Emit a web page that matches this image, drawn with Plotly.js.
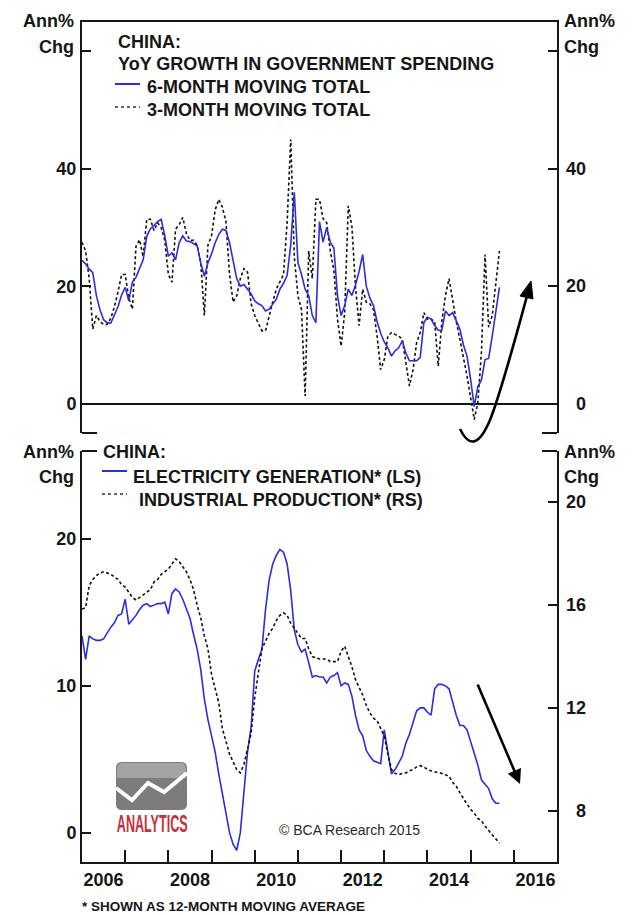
<!DOCTYPE html>
<html><head><meta charset="utf-8">
<script src="https://cdn.plot.ly/plotly-3.0.1.min.js"></script>
<style>html,body{margin:0;padding:0;background:#fff;}#chart{width:633px;height:915px;}</style>
</head><body><div id="chart"></div>
<script>
// ---------------- DATA (monthly, starting Jan 2006) ----------------
const startYear = 2006;

// Top panel: China YoY growth in government spending (%)
const govSpend6m = [
  24.4, 23.8, 22.9, 22.3, 18.4, 16.0, 14.3, 13.8, 13.7, 15.0, 16.5, 18.5,
  19.8, 17.5, 20.7, 21.5, 23.0, 24.5, 28.5, 29.8, 30.3, 31.0, 31.4, 28.6,
  25.1, 25.7, 24.5, 27.4, 28.6, 27.7, 27.6, 27.2, 26.9, 24.0, 21.7, 24.0,
  25.5, 27.4, 28.8, 29.7, 29.5, 27.4, 24.0, 21.3, 20.0, 20.3, 19.5, 18.7,
  17.5, 17.0, 16.7, 15.8, 16.1, 16.9, 17.8, 19.5, 20.5, 21.8, 27.0, 36.0,
  24.0, 22.0, 19.5, 18.4, 15.0, 13.8, 31.0, 27.5, 30.0, 27.5, 26.5, 18.4,
  15.0, 16.7, 19.5, 18.4, 20.2, 22.5, 25.4, 20.0, 18.0, 16.7, 14.0, 12.0,
  10.5, 9.5, 8.1, 9.0, 9.5, 10.7, 8.6, 7.3, 7.3, 7.3, 7.9, 13.8,
  14.7, 14.4, 13.3, 12.5, 12.5, 15.8, 15.0, 15.5, 14.1, 12.7, 10.0, 8.1,
  4.1, -0.5, 2.9, 4.0, 7.5, 7.7, 11.5, 16.0, 19.8
];
const govSpend3m = [
  27.5, 26.0, 21.3, 12.7, 15.0, 14.0, 13.5, 13.5, 14.5, 16.5, 19.0, 22.0,
  22.0, 18.0, 16.1, 26.8, 27.9, 25.0, 31.4, 31.4, 29.5, 30.8, 30.0, 27.8,
  22.0, 20.7, 29.7, 30.5, 31.7, 29.0, 27.8, 27.8, 27.0, 24.0, 15.0, 27.0,
  28.6, 33.0, 34.8, 33.5, 31.0, 22.0, 17.3, 18.4, 21.3, 23.0, 22.4, 17.0,
  15.0, 13.8, 12.4, 12.4, 15.0, 17.3, 19.5, 20.7, 22.0, 30.8, 45.0, 25.0,
  18.4, 16.0, 1.3, 26.0, 21.3, 34.8, 34.8, 31.5, 30.8, 26.0, 22.7, 14.4,
  9.8, 15.5, 33.7, 30.2, 20.0, 13.3, 19.5, 17.3, 17.0, 16.0, 11.5, 5.8,
  7.5, 11.5, 12.1, 11.8, 11.5, 11.0, 7.0, 3.0, 5.8, 10.4, 12.1, 15.5,
  14.4, 14.4, 14.0, 6.4, 14.0, 18.4, 21.3, 17.3, 14.0, 11.0, 8.0, 4.7,
  1.0, -2.7, 0.1, 8.7, 25.4, 13.0, 15.0, 20.0, 26.0
];

// Bottom panel: electricity generation (LS) and industrial production (RS), 12m MA
const elecGen = [
  13.4, 11.8, 13.4, 13.2, 13.1, 13.1, 13.2, 13.6, 14.0, 14.3, 14.8, 14.9,
  15.9, 14.2, 14.5, 14.8, 15.2, 15.5, 15.6, 15.4, 15.5, 15.6, 15.6, 15.7,
  14.9, 16.3, 16.6, 16.4, 15.9, 15.3, 14.6, 13.5, 12.5, 11.1, 9.1, 7.7,
  6.5, 5.5, 4.0, 2.7, 1.2, 0.0, -0.8, -1.2, 0.0, 2.5, 5.5, 7.2,
  11.0, 11.8, 12.5, 15.2, 17.2, 18.3, 18.9, 19.3, 19.1, 18.3, 16.5, 13.8,
  12.8, 12.3, 12.5, 11.6, 10.6, 10.7, 10.6, 10.6, 10.2, 10.6, 10.7, 10.9,
  10.0, 10.2, 10.1, 9.3, 8.0, 7.0, 6.6, 5.6, 5.2, 4.9, 4.8, 4.7,
  7.0, 5.5, 4.0, 4.3, 4.8, 5.2, 6.1, 6.7, 7.5, 8.3, 8.5, 8.5,
  8.2, 8.0, 9.8, 10.1, 10.1, 10.0, 9.8, 8.8, 8.0, 7.3, 7.3, 7.0,
  6.2, 5.3, 4.6, 3.6, 3.3, 3.0, 2.3, 2.0, 2.0
];
const indProd = [
  15.85, 15.9, 16.76, 17.0, 17.15, 17.25, 17.3, 17.25, 17.2, 17.1, 17.0, 16.8,
  16.7, 16.5, 16.3, 16.2, 16.3, 16.4, 16.5, 16.6, 16.9, 17.0, 17.2, 17.3,
  17.4, 17.6, 17.8, 17.7, 17.5, 17.3, 17.0, 16.6, 16.0, 15.5, 14.8, 14.3,
  13.3, 12.8, 12.2, 11.2, 10.7, 10.2, 9.9, 9.6, 9.47, 9.8, 10.4, 11.0,
  12.4, 13.4, 14.3, 14.6, 14.9, 15.1, 15.4, 15.6, 15.7, 15.6, 15.3, 15.1,
  14.9, 14.7, 14.7, 14.3, 14.0, 13.95, 13.9, 13.9, 13.9, 13.8, 13.8, 13.8,
  14.2, 14.4, 14.0, 13.6, 13.1, 12.8, 12.5, 12.1, 11.8, 11.6, 11.5, 11.2,
  10.9, 10.2, 9.6, 9.45, 9.4, 9.45, 9.47, 9.55, 9.6, 9.7, 9.75, 9.7,
  9.6, 9.55, 9.5, 9.47, 9.45, 9.4, 9.34, 9.1, 8.95, 8.7, 8.45, 8.25,
  8.05, 7.9, 7.7, 7.6, 7.4, 7.25, 7.06, 6.9, 6.74
];

// Axis ticks / labels
const yearTicks = [2007, 2008, 2009, 2010, 2011, 2012, 2013, 2014, 2015, 2016];
const yearLabelPos = [2006.5, 2008.5, 2010.5, 2012.5, 2014.5, 2016.5];
const yearLabels = ['2006', '2008', '2010', '2012', '2014', '2016'];
const topTicks = [0, 20, 40, 60];
const topTickText = ['0', '20', '40', ''];
const botLeftTicks = [0, 10, 20];
const botLeftText = ['0', '10', '20'];
const botRightTicks = [8, 12, 16, 20];
const botRightText = ['8', '12', '16', '20'];

// ---------------- helpers ----------------
function monthAxis(n) { const a = []; for (let i = 0; i < n; i++) a.push(startYear + i / 12); return a; }
const W = 633, H = 915, ML = 82, MR = 76, MT = 22, MB = 53;
const PW = W - ML - MR, PH = H - MT - MB;
const px = v => (v - ML) / PW;
const py = v => (H - MB - v) / PH;
const FONT = 'Liberation Sans, Arial, Helvetica, sans-serif';
const INK = '#161616';
const BLUE = '#2d2fd6';
const bold = (size, color) => ({ family: FONT, size: size, color: color || INK, weight: 700 });
const TICK = 18, TITLE = 18;

const topDomain = [py(433), 1];
const botDomain = [0, py(451)];

const traces = [
  { x: monthAxis(govSpend3m.length), y: govSpend3m, xaxis: 'x', yaxis: 'y', mode: 'lines',
    line: { color: '#111', width: 1.6, dash: '3px,2.5px' }, hoverinfo: 'skip' },
  { x: monthAxis(govSpend6m.length), y: govSpend6m, xaxis: 'x', yaxis: 'y', mode: 'lines',
    line: { color: BLUE, width: 1.6 }, hoverinfo: 'skip' },
  { x: [], y: [], xaxis: 'x', yaxis: 'y3', mode: 'lines', hoverinfo: 'skip' },
  { x: monthAxis(indProd.length), y: indProd, xaxis: 'x2', yaxis: 'y4', mode: 'lines',
    line: { color: '#111', width: 1.6, dash: '3px,2.5px' }, hoverinfo: 'skip' },
  { x: monthAxis(elecGen.length), y: elecGen, xaxis: 'x2', yaxis: 'y2', mode: 'lines',
    line: { color: BLUE, width: 1.6 }, hoverinfo: 'skip' }
];

const axisCommon = { showgrid: false, linecolor: INK, linewidth: 2, tickcolor: INK, tickwidth: 2, fixedrange: true };

const annotations = [];
function addText(text, x, y, anchor, font, extra) {
  annotations.push(Object.assign({ xref: 'paper', yref: 'paper', x: px(x), y: py(y), xanchor: anchor, yanchor: 'middle',
    text: text, showarrow: false, font: font }, extra || {}));
}
// Axis unit labels
addText('Ann%', 76, 21, 'right', bold(TICK));
addText('Chg', 76, 47, 'right', bold(TICK));
addText('Ann%', 562, 21, 'left', bold(TICK));
addText('Chg', 562, 47, 'left', bold(TICK));
addText('Ann%', 76, 452, 'right', bold(TICK));
addText('Chg', 76, 477, 'right', bold(TICK));
addText('Ann%', 562, 452, 'left', bold(TICK));
addText('Chg', 562, 477, 'left', bold(TICK));
// Right-axis tick labels (right aligned like the reference)
topTicks.forEach((v, k) => { if (topTickText[k]) annotations.push({ xref: 'paper', yref: 'y3', x: px(588), y: v, xanchor: 'right', yanchor: 'middle', text: topTickText[k], showarrow: false, font: bold(TICK) }); });
botRightTicks.forEach((v, k) => annotations.push({ xref: 'paper', yref: 'y4', x: px(588), y: v, xanchor: 'right', yanchor: 'middle', text: botRightText[k], showarrow: false, font: bold(TICK) }));
// Top panel titles / legend
addText('CHINA:', 116, 42, 'left', bold(TITLE));
addText('YoY GROWTH IN GOVERNMENT SPENDING', 116, 64, 'left', bold(TITLE));
addText('6-MONTH MOVING TOTAL', 145, 87, 'left', bold(TITLE));
addText('3-MONTH MOVING TOTAL', 145, 110, 'left', bold(TITLE));
// Bottom panel titles / legend
addText('CHINA:', 101, 452, 'left', bold(TITLE));
addText('ELECTRICITY GENERATION* (LS)', 131, 477, 'left', bold(TITLE));
addText('INDUSTRIAL PRODUCTION* (RS)', 137, 500, 'left', bold(TITLE));
// Credits & footnote
addText('© BCA Research 2015', 277, 830, 'left', { family: FONT, size: 14, color: '#2a2a2a' });
addText('* SHOWN AS 12-MONTH MOVING AVERAGE', 80, 906, 'left', bold(13.5));
addText('ANALYTICS', 151.5, 823.5, 'center', { family: FONT, size: 15, color: '#c4303d', weight: 700 });
// Bottom arrow (straight, pointing down)
annotations.push({ xref: 'paper', yref: 'paper', x: px(520), y: py(784), ax: -43, ay: -101, text: '', showarrow: true,
  arrowhead: 2, arrowsize: 1.1, arrowwidth: 2.6, arrowcolor: '#000' });

// shapes
function P(pts) { return pts.map(p => px(p[0]).toFixed(5) + ',' + py(p[1]).toFixed(5)).join(' '); }
const shapes = [
  // axis feet / corner ticks
  { type: 'line', xref: 'paper', yref: 'paper', x0: px(82), x1: px(97), y0: py(433), y1: py(433), line: { color: INK, width: 2 } },
  { type: 'line', xref: 'paper', yref: 'paper', x0: px(542), x1: px(557), y0: py(433), y1: py(433), line: { color: INK, width: 2 } },
  { type: 'line', xref: 'paper', yref: 'paper', x0: px(82), x1: px(97), y0: py(451), y1: py(451), line: { color: INK, width: 2 } },
  { type: 'line', xref: 'paper', yref: 'paper', x0: px(542), x1: px(557), y0: py(451), y1: py(451), line: { color: INK, width: 2 } },
  // legend samples
  { type: 'line', xref: 'paper', yref: 'paper', x0: px(115), x1: px(140), y0: py(84), y1: py(84), line: { color: BLUE, width: 2 } },
  { type: 'line', xref: 'paper', yref: 'paper', x0: px(115), x1: px(140), y0: py(107), y1: py(107), line: { color: '#333', width: 1.6, dash: '3px,3px' } },
  { type: 'line', xref: 'paper', yref: 'paper', x0: px(102), x1: px(127), y0: py(471), y1: py(471), line: { color: BLUE, width: 2 } },
  { type: 'line', xref: 'paper', yref: 'paper', x0: px(102), x1: px(127), y0: py(494), y1: py(494), line: { color: '#333', width: 1.6, dash: '3px,3px' } },
  // curved arrow in top panel
  { type: 'path', xref: 'paper', yref: 'paper', layer: 'above',
    path: 'M' + P([[460, 429]]) + ' Q' + P([[474, 458], [490, 420]]) + ' C' + P([[500, 396], [516, 336], [527, 296]]),
    line: { color: '#000', width: 2.6 } },
  { type: 'path', xref: 'paper', yref: 'paper', layer: 'above',
    path: 'M' + P([[531, 281]]) + ' L' + P([[533, 299]]) + ' L' + P([[520, 296]]) + ' Z',
    fillcolor: '#000', line: { color: '#000', width: 1 } },
  // logo
  { type: 'path', xref: 'paper', yref: 'paper', layer: 'above',
    path: 'M' + P([[122, 762]]) + ' L' + P([[181, 762]]) + ' Q' + P([[187, 762], [187, 768]]) + ' L' + P([[187, 804]]) +
      ' Q' + P([[187, 810], [181, 810]]) + ' L' + P([[122, 810]]) + ' Q' + P([[116, 810], [116, 804]]) + ' L' + P([[116, 768]]) +
      ' Q' + P([[116, 762], [122, 762]]) + ' Z',
    fillcolor: '#7c7c7c', line: { width: 0 } },
  { type: 'path', xref: 'paper', yref: 'paper', layer: 'above',
    path: 'M' + P([[122, 763]]) + ' L' + P([[181, 763]]) + ' Q' + P([[186, 763], [186, 770]]) + ' L' + P([[186, 778]]) + ' L' + P([[117, 778]]) + ' L' + P([[117, 770]]) + ' Q' + P([[117, 763], [122, 763]]) + ' Z',
    fillcolor: '#a3a3a3', line: { width: 0 } },
  { type: 'path', xref: 'paper', yref: 'paper', layer: 'above',
    path: 'M' + P([[116, 788]]) + ' L' + P([[132, 800]]) + ' L' + P([[148, 783]]) + ' L' + P([[164, 792]]) + ' L' + P([[187, 773]]),
    line: { color: '#ffffff', width: 4 } }
];

const layout = {
  width: W, height: H, margin: { l: ML, r: MR, t: MT, b: MB, pad: 0 },
  paper_bgcolor: '#fff', plot_bgcolor: 'rgba(0,0,0,0)', showlegend: false,
  font: { family: FONT, color: INK },
  xaxis: Object.assign({}, axisCommon, { domain: [0, 1], anchor: 'y', range: [2006, 2017], side: 'top', showline: true,
    ticks: '', showticklabels: false, zeroline: false }),
  yaxis: Object.assign({}, axisCommon, { domain: topDomain, anchor: 'x', range: [-5, 65], tickmode: 'array', tickvals: topTicks,
    ticktext: topTickText, ticks: 'inside', ticklen: 9, showline: true, zeroline: true, zerolinecolor: INK, zerolinewidth: 2,
    tickfont: bold(TICK) }),
  yaxis3: Object.assign({}, axisCommon, { overlaying: 'y', anchor: 'x', side: 'right', range: [-5, 65], tickmode: 'array',
    tickvals: topTicks, showticklabels: false, ticks: 'inside', ticklen: 9, showline: true, zeroline: false }),
  xaxis2: Object.assign({}, axisCommon, { domain: [0, 1], anchor: 'y2', range: [2006, 2017], showline: true, zeroline: false,
    tickmode: 'array', tickvals: yearLabelPos, ticktext: yearLabels, ticks: '', tickfont: bold(TICK),
    minor: { tickmode: 'array', tickvals: yearTicks, ticks: 'inside', ticklen: 12, tickwidth: 2, tickcolor: INK, showgrid: false } }),
  yaxis2: Object.assign({}, axisCommon, { domain: botDomain, anchor: 'x2', range: [-2, 26], tickmode: 'array',
    tickvals: botLeftTicks, ticktext: botLeftText, ticks: 'inside', ticklen: 9, showline: true, zeroline: false, tickfont: bold(TICK) }),
  yaxis4: Object.assign({}, axisCommon, { overlaying: 'y2', anchor: 'x2', side: 'right', range: [6, 22], tickmode: 'array',
    tickvals: botRightTicks, showticklabels: false, ticks: 'inside', ticklen: 9, showline: true, zeroline: false }),
  annotations: annotations,
  shapes: shapes
};

function squeezeLogoText() {
  document.querySelectorAll('.annotation').forEach(g => {
    if (g.textContent.trim() === 'ANALYTICS') {
      const t = g.querySelector('text');
      if (!t) return;
      t.style.transformBox = 'fill-box';
      t.style.transformOrigin = 'center';
      t.style.transform = 'scale(0.84, 1.55)';
    }
  });
}
Plotly.newPlot('chart', traces, layout, { staticPlot: true, displayModeBar: false }).then(squeezeLogoText);
squeezeLogoText();
</script>
</body></html>
